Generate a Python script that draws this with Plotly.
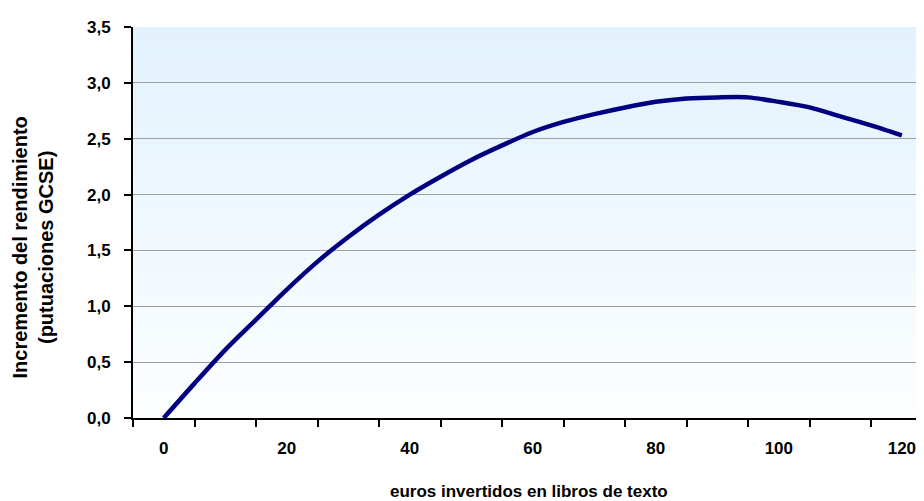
import plotly.graph_objects as go

# Data
euros = [0, 5, 10, 15, 20, 25, 30, 35, 40, 45, 50, 55, 60, 65, 70, 75, 80, 85, 90, 95, 100, 105, 110, 115, 120]
incremento = [0.00, 0.31, 0.61, 0.88, 1.15, 1.40, 1.62, 1.82, 2.00, 2.16, 2.31, 2.44, 2.56, 2.65, 2.72,
              2.78, 2.83, 2.86, 2.87, 2.87, 2.83, 2.78, 2.70, 2.62, 2.53]
x_tick_vals = [0, 20, 40, 60, 80, 100, 120]
y_tick_vals = [0.0, 0.5, 1.0, 1.5, 2.0, 2.5, 3.0, 3.5]

FONT = "Liberation Sans, Arial, sans-serif"

fig = go.Figure()
fig.add_trace(go.Scatter(
    x=euros, y=incremento, mode="lines",
    line=dict(color="#000080", width=4.5, shape="spline", smoothing=0.8),
    hoverinfo="skip",
))

# gradient background bands (light blue top -> white bottom)
n = 40
shapes = []
top = (226, 242, 253)
bot = (252, 254, 255)
for i in range(n):
    t = i / (n - 1)
    c = tuple(round(top[k] + (bot[k] - top[k]) * t) for k in range(3))
    shapes.append(dict(type="rect", xref="paper", yref="paper",
                       x0=0, x1=1, y0=1 - (i + 1) / n, y1=1 - i / n,
                       fillcolor="rgb(%d,%d,%d)" % c, line=dict(width=0), layer="below"))

fig.update_layout(
    width=916, height=493,
    margin=dict(l=125, r=0, t=19, b=83),
    paper_bgcolor="white", plot_bgcolor="rgba(0,0,0,0)",
    separators=",.",
    showlegend=False,
    font=dict(family=FONT, color="black"),
    shapes=shapes,
    xaxis=dict(
        range=[-5, 123.6],
        tickvals=x_tick_vals, ticktext=[str(v) for v in x_tick_vals],
        ticks="", showgrid=False, zeroline=False,
        showline=True, linecolor="black", linewidth=2,
        tickfont=dict(size=17, family=FONT, weight="bold"),
        ticklabelstandoff=14,
        minor=dict(tick0=-5, dtick=10, ticks="outside", ticklen=7, tickwidth=2, tickcolor="black", showgrid=False),
    ),
    yaxis=dict(
        range=[0, 3.5],
        tickvals=y_tick_vals, tickformat=".1f",
        ticks="outside", ticklen=7, tickwidth=2, tickcolor="black",
        showgrid=True, gridcolor="#A0A0A0", gridwidth=1,
        zeroline=False,
        showline=True, linecolor="black", linewidth=2,
        tickfont=dict(size=17, family=FONT, weight="bold"),
        ticklabelstandoff=10,
    ),
    annotations=[
        dict(text="euros invertidos en libros de texto", xref="paper", yref="paper",
             x=0.5, y=-0.187, xanchor="center", yanchor="middle", showarrow=False,
             font=dict(size=17, family=FONT, weight="bold")),
        dict(text="Incremento del rendimiento<br>(putuaciones GCSE)", xref="paper", yref="paper",
             x=-0.127, y=0.435, xanchor="center", yanchor="middle", showarrow=False, textangle=-90,
             font=dict(size=20, family=FONT, weight="bold")),
    ],
)

fig.write_html("out.html")
